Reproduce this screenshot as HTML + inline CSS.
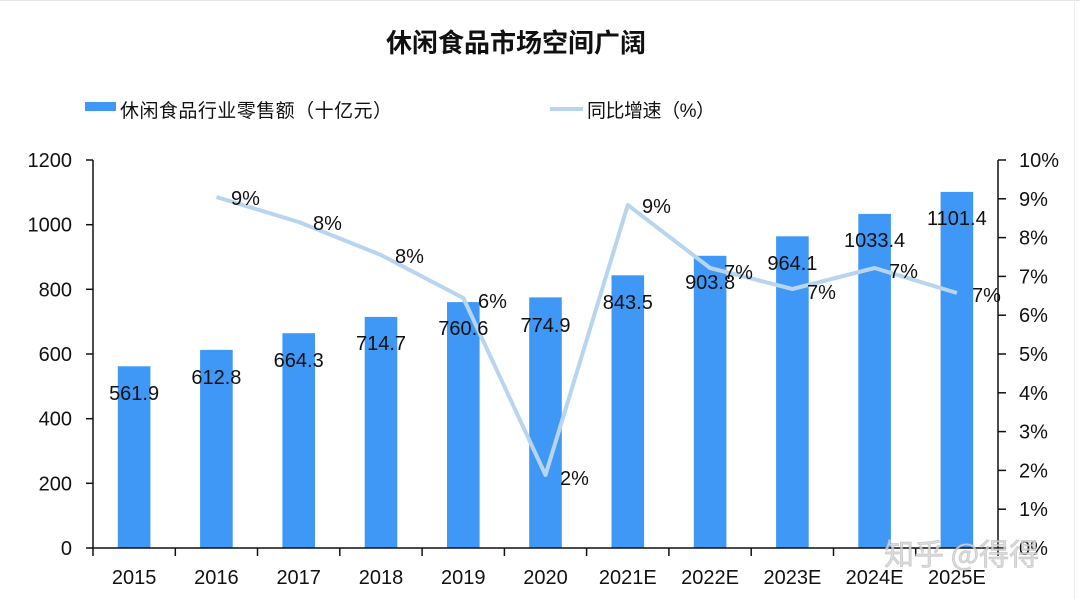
<!DOCTYPE html>
<html>
<head>
<meta charset="utf-8">
<style>
  html,body{margin:0;padding:0;background:#fff;}
  svg{display:block;}
  text{font-family:"Liberation Sans","Noto Sans CJK SC",sans-serif;fill:#111;}
</style>
</head>
<body>
<svg width="1080" height="599" viewBox="0 0 1080 599" xmlns="http://www.w3.org/2000/svg">
  <rect x="0" y="0" width="1080" height="599" fill="#fff"/>
  <line x1="0" y1="0.5" x2="1080" y2="0.5" stroke="#e6e6e6" stroke-width="1"/>
  <line x1="1074.5" y1="0" x2="1074.5" y2="599" stroke="#ececec" stroke-width="1"/>

  <!-- Title -->
  <text x="516" y="52" font-size="26" font-weight="bold" text-anchor="middle" style="font-family:'Noto Sans CJK SC','Liberation Sans',sans-serif;">休闲食品市场空间广阔</text>

  <!-- Legend -->
  <rect x="85" y="102" width="31" height="9" fill="#3f97f6"/>
  <text x="120" y="117" font-size="19" textLength="272" lengthAdjust="spacing">休闲食品行业零售额（十亿元）</text>
  <line x1="550" y1="109" x2="583" y2="109" stroke="#b7d5ef" stroke-width="4"/>
  <text x="587" y="117" font-size="19" textLength="128" lengthAdjust="spacing">同比增速（%）</text>

  <!-- Bars -->
  <g fill="#3f97f6">
    <rect x="117.8" y="366.3" width="32.6" height="181.7"/>
    <rect x="200.1" y="349.9" width="32.6" height="198.1"/>
    <rect x="282.4" y="333.2" width="32.6" height="214.8"/>
    <rect x="364.7" y="316.9" width="32.6" height="231.1"/>
    <rect x="447.0" y="302.1" width="32.6" height="245.9"/>
    <rect x="529.2" y="297.4" width="32.6" height="250.6"/>
    <rect x="611.5" y="275.3" width="32.6" height="272.7"/>
    <rect x="693.8" y="255.8" width="32.6" height="292.2"/>
    <rect x="776.1" y="236.3" width="32.6" height="311.7"/>
    <rect x="858.3" y="213.9" width="32.6" height="334.1"/>
    <rect x="940.6" y="191.9" width="32.6" height="356.1"/>
  </g>

  <!-- Axes -->
  <g stroke="#111" stroke-width="1.5" fill="none">
    <line x1="93" y1="160" x2="93" y2="548.75"/>
    <line x1="998" y1="160" x2="998" y2="548.75"/>
    <line x1="92.25" y1="548" x2="998.75" y2="548"/>
    <line x1="86" y1="548" x2="93" y2="548"/>
    <line x1="86" y1="483.3" x2="93" y2="483.3"/>
    <line x1="86" y1="418.7" x2="93" y2="418.7"/>
    <line x1="86" y1="354" x2="93" y2="354"/>
    <line x1="86" y1="289.3" x2="93" y2="289.3"/>
    <line x1="86" y1="224.7" x2="93" y2="224.7"/>
    <line x1="86" y1="160" x2="93" y2="160"/>
    <line x1="998" y1="548" x2="1006" y2="548"/>
    <line x1="998" y1="509.2" x2="1006" y2="509.2"/>
    <line x1="998" y1="470.4" x2="1006" y2="470.4"/>
    <line x1="998" y1="431.6" x2="1006" y2="431.6"/>
    <line x1="998" y1="392.8" x2="1006" y2="392.8"/>
    <line x1="998" y1="354" x2="1006" y2="354"/>
    <line x1="998" y1="315.2" x2="1006" y2="315.2"/>
    <line x1="998" y1="276.4" x2="1006" y2="276.4"/>
    <line x1="998" y1="237.6" x2="1006" y2="237.6"/>
    <line x1="998" y1="198.8" x2="1006" y2="198.8"/>
    <line x1="998" y1="160" x2="1006" y2="160"/>
    <line x1="93" y1="548" x2="93" y2="556"/>
    <line x1="175.3" y1="548" x2="175.3" y2="556"/>
    <line x1="257.5" y1="548" x2="257.5" y2="556"/>
    <line x1="339.8" y1="548" x2="339.8" y2="556"/>
    <line x1="422.1" y1="548" x2="422.1" y2="556"/>
    <line x1="504.4" y1="548" x2="504.4" y2="556"/>
    <line x1="586.6" y1="548" x2="586.6" y2="556"/>
    <line x1="668.9" y1="548" x2="668.9" y2="556"/>
    <line x1="751.2" y1="548" x2="751.2" y2="556"/>
    <line x1="833.5" y1="548" x2="833.5" y2="556"/>
    <line x1="915.7" y1="548" x2="915.7" y2="556"/>
    <line x1="998" y1="548" x2="998" y2="556"/>
  </g>

  <!-- Left axis labels -->
  <g font-size="20" text-anchor="end">
    <text x="72" y="555">0</text>
    <text x="72" y="490.3">200</text>
    <text x="72" y="425.7">400</text>
    <text x="72" y="361">600</text>
    <text x="72" y="296.3">800</text>
    <text x="72" y="231.7">1000</text>
    <text x="72" y="167">1200</text>
  </g>

  <!-- Right axis labels -->
  <g font-size="20" text-anchor="start">
    <text x="1019" y="555">0%</text>
    <text x="1019" y="516.2">1%</text>
    <text x="1019" y="477.4">2%</text>
    <text x="1019" y="438.6">3%</text>
    <text x="1019" y="399.8">4%</text>
    <text x="1019" y="361">5%</text>
    <text x="1019" y="322.2">6%</text>
    <text x="1019" y="283.4">7%</text>
    <text x="1019" y="244.6">8%</text>
    <text x="1019" y="205.8">9%</text>
    <text x="1019" y="167">10%</text>
  </g>

  <!-- X labels -->
  <g font-size="20" text-anchor="middle">
    <text x="134.1" y="584">2015</text>
    <text x="216.4" y="584">2016</text>
    <text x="298.7" y="584">2017</text>
    <text x="381" y="584">2018</text>
    <text x="463.3" y="584">2019</text>
    <text x="545.5" y="584">2020</text>
    <text x="627.8" y="584">2021E</text>
    <text x="710.1" y="584">2022E</text>
    <text x="792.4" y="584">2023E</text>
    <text x="874.6" y="584">2024E</text>
    <text x="956.9" y="584">2025E</text>
  </g>

  <!-- Line -->
  <polyline fill="none" stroke="#b7d5ef" stroke-width="4" stroke-linejoin="round" stroke-linecap="butt"
    points="216.4,197 298.7,222 381,255 463.3,298 545.5,475 627.8,205 710.1,268 792.4,289 874.6,268 956.9,293"/>

  <!-- Bar value labels -->
  <g font-size="20" text-anchor="middle">
    <text x="134.1" y="400">561.9</text>
    <text x="216.4" y="384">612.8</text>
    <text x="298.7" y="367">664.3</text>
    <text x="381" y="350">714.7</text>
    <text x="463.3" y="335">760.6</text>
    <text x="545.5" y="332">774.9</text>
    <text x="627.8" y="309">843.5</text>
    <text x="710.1" y="289">903.8</text>
    <text x="792.4" y="270">964.1</text>
    <text x="874.6" y="247">1033.4</text>
    <text x="956.9" y="225">1101.4</text>
  </g>

  <!-- Percent labels -->
  <g font-size="20" text-anchor="start">
    <text x="231" y="205">9%</text>
    <text x="313" y="230">8%</text>
    <text x="395" y="263">8%</text>
    <text x="478" y="308">6%</text>
    <text x="560" y="485">2%</text>
    <text x="642" y="213">9%</text>
    <text x="724" y="279">7%</text>
    <text x="807" y="299">7%</text>
    <text x="889" y="278">7%</text>
    <text x="972" y="302">7%</text>
  </g>

  <!-- Watermark -->
  <text x="884" y="565" font-size="30" style="font-family:'Noto Sans CJK SC','Liberation Sans',sans-serif;fill:rgba(215,215,215,0.85);stroke:rgba(170,170,170,0.5);stroke-width:0.8;">知乎 @得得</text>
</svg>
</body>
</html>
